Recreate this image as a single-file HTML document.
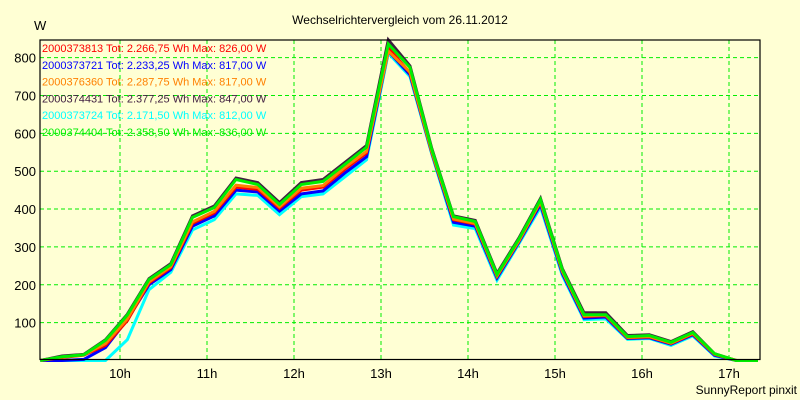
<!DOCTYPE html>
<html><head><meta charset="utf-8"><style>
body{margin:0;background:#ffffd4;}
svg{display:block;font-family:"Liberation Sans",sans-serif;}
</style></head><body>
<svg id="c" width="800" height="400">
<rect x="0" y="0" width="800" height="400" fill="#ffffd4"/>
<text x="400" y="24" text-anchor="middle" font-size="12">Wechselrichtervergleich vom 26.11.2012</text>
<text x="34" y="30" font-size="13">W</text>
<text x="797" y="394" text-anchor="end" font-size="12">SunnyReport pinxit</text>
<g id="grid"></g><g id="series"></g><g id="legend"></g>
<rect x="40" y="40" width="720" height="319.5" fill="none" stroke="#000" stroke-width="1.2"/>
</svg>
<script>
const yTicks=[100,200,300,400,500,600,700,800];
const xHours=[10,11,12,13,14,15,16,17];
const startHour=9+5/60, stepHour=0.25;
const names=["2000374431","2000373724","2000373721","2000373813","2000376360","2000374404"];
const colors=["#402040","#00ffff","#0000ff","#ff0000","#ff8000","#00ee00"];
const legendOrder=[3,2,4,0,1,5];
const legendText=["Tot: 2.377,25 Wh Max: 847,00 W","Tot: 2.171,50 Wh Max: 812,00 W","Tot: 2.233,25 Wh Max: 817,00 W","Tot: 2.266,75 Wh Max: 826,00 W","Tot: 2.287,75 Wh Max: 817,00 W","Tot: 2.358,50 Wh Max: 836,00 W"];
const sK=[0,12,16,55,122,216,256,382,408,482,470,417,470,478,523,568,847,778,560,382,370,230,323,428,243,126,126,66,68,50,76,18,0,0];
const sC=[0,0,0,0,55,187,233,345,372,440,436,385,433,440,485,530,812,750,545,358,348,212,308,405,225,108,110,56,58,40,65,12,0,0];
const sB=[0,0,3,34,108,200,240,355,382,450,445,395,440,448,495,538,817,755,548,365,355,218,312,412,230,112,115,58,60,43,68,14,0,0];
const sR=[0,8,14,40,105,205,245,362,390,458,452,402,450,458,505,548,826,760,550,372,360,222,315,418,235,116,118,60,62,45,70,16,0,0];
const sO=[0,9,15,45,110,208,248,366,394,463,457,406,455,462,510,552,817,762,552,374,362,224,316,420,236,118,120,61,63,46,72,17,0,0];
const sG=[0,10,15,53,120,214,253,378,404,478,465,412,465,473,518,563,836,774,557,380,367,227,320,425,240,121,121,63,66,48,74,18,0,0];
const seriesData=[sK,sC,sB,sR,sO,sG];
const NS="http://www.w3.org/2000/svg";
const xS=h=>120+(h-10)*87;
const yS=v=>360.5-v*0.3786;
const grid=document.getElementById('grid');
function mk(tag,at,parent){const e=document.createElementNS(NS,tag);for(const k in at)e.setAttribute(k,at[k]);parent.appendChild(e);return e;}
yTicks.forEach(v=>{
 const l=mk('line',{x1:40,x2:760,y1:yS(v),y2:yS(v),stroke:'#00ee00','stroke-dasharray':'4,3'},grid);
 
 
 const t=mk('text',{x:36,y:yS(v)+5,'text-anchor':'end','font-size':13},grid);t.textContent=v;
 
 
});
xHours.forEach(h=>{
 const l=mk('line',{x1:xS(h),x2:xS(h),y1:40,y2:359,stroke:'#00ee00','stroke-dasharray':'4,3'},grid);
 
 
 const t=mk('text',{x:xS(h),y:378,'text-anchor':'middle','font-size':13},grid);t.textContent=h+'h';
 
 
});
const sg=document.getElementById('series');
seriesData.forEach((d,i)=>{
 const pts=d.map((v,k)=>xS(startHour+k*stepHour).toFixed(1)+','+yS(v).toFixed(1)).join(' ');
 const p=mk('polyline',{points:pts,fill:'none',stroke:colors[i],'stroke-width':3,'stroke-linejoin':'miter'},sg);
 
 
});
const lg=document.getElementById('legend');
legendOrder.forEach((si,r)=>{
 const t=mk('text',{x:42,y:52+r*16.8,'font-size':11,fill:colors[si]},lg);
 t.textContent=names[si]+' '+legendText[si];
 
 
});
</script>
</body></html>
